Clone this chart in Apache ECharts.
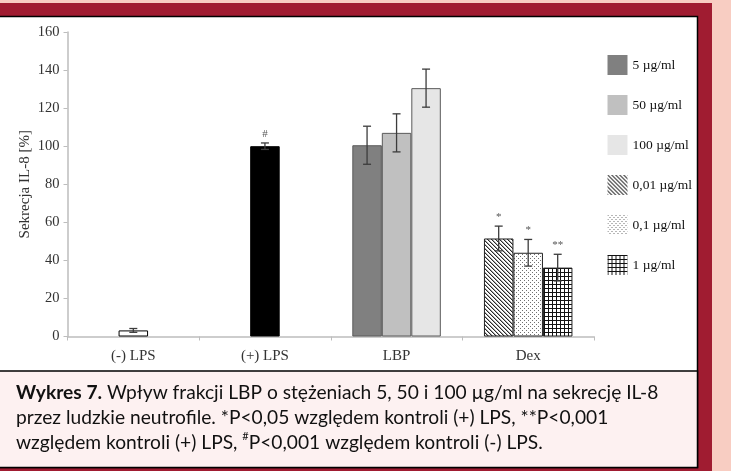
<!DOCTYPE html>
<html>
<head>
<meta charset="utf-8">
<script src="https://cdn.jsdelivr.net/npm/echarts@6/dist/echarts.min.js"></script>
<style>
html,body{margin:0;padding:0;background:#f8cdc2;}
#chart{width:731px;height:471px;}
</style>
</head>
<body>
<div id="chart"></div>
<script>
// ---- data ----
const categories = ['(-) LPS', '(+) LPS', 'LBP', 'Dex'];
const yTicks = [0, 20, 40, 60, 80, 100, 120, 140, 160];
const controlValues = [3.2, 100];
const controlErrors = [1.0, 1.7];
const controlMarks = ['', '#'];
const lbpNames = ['5 µg/ml', '50 µg/ml', '100 µg/ml'];
const lbpValues = [100.5, 107, 130.5];
const lbpErrors = [10, 10, 10];
const dexNames = ['0,01 µg/ml', '0,1 µg/ml', '1 µg/ml'];
const dexValues = [51.5, 44, 36.2];
const dexErrors = [6.5, 7, 7];
const dexMarks = ['*', '*', '**'];
const yTitle = 'Sekrecja IL-8 [%]';

// ---- styles ----
const serif = 'Liberation Serif';
const barW = 29.5;
const lbpColors = ['#808080', '#c0c0c0', '#e6e6e6'];

function pattern(kind) {
  const c = document.createElement('canvas');
  c.width = 4; c.height = 4;
  const g = c.getContext('2d');
  g.fillStyle = '#ffffff';
  g.fillRect(0, 0, 4, 4);
  if (kind === 'diag') {
    g.fillStyle = '#2a2a2a';
    for (let i = 0; i < 4; i++) { g.fillRect(i, i, 1, 1); }
    g.fillStyle = '#a8a8a8';
    for (let i = 0; i < 4; i++) { g.fillRect((i + 1) % 4, i, 1, 1); }
  } else if (kind === 'dots') {
    g.fillStyle = '#707070';
    g.fillRect(0, 0, 1, 1); g.fillRect(2, 2, 1, 1);
  } else {
    g.fillStyle = '#111111';
    g.fillRect(0, 0, 4, 1); g.fillRect(0, 0, 1, 4);
  }
  return { image: c, repeat: 'repeat' };
}
const dexFills = [pattern('diag'), pattern('dots'), pattern('grid')];
const stacks = ['a', 'b', 'c'];

function seriesFor(catIdx, value) {
  return categories.map((_, i) => (i === catIdx ? value : '-'));
}

const series = [];
lbpNames.forEach((n, k) => {
  series.push({
    name: n, type: 'bar', stack: stacks[k], barWidth: barW, barGap: '0%',
    data: seriesFor(2, lbpValues[k]),
    itemStyle: { color: lbpColors[k], borderColor: '#5a5a5a', borderWidth: 1 }
  });
});
dexNames.forEach((n, k) => {
  series.push({
    name: n, type: 'bar', stack: stacks[k], barWidth: barW, barGap: '0%',
    data: seriesFor(3, dexValues[k]),
    itemStyle: { color: dexFills[k], borderColor: '#222', borderWidth: 1 }
  });
});
series.push({
  name: 'control', type: 'bar', stack: 'b', barWidth: barW, barGap: '0%',
  data: [
    { value: controlValues[0], itemStyle: { color: '#ffffff', borderColor: '#000', borderWidth: 1 } },
    { value: controlValues[1], itemStyle: { color: '#000000', borderColor: '#000', borderWidth: 1 } },
    '-', '-'
  ]
});

// error bars: [category, value, error, slot]
const errData = [];
const errMarks = [];
controlValues.forEach((v, i) => { errData.push([i, v, controlErrors[i], 1]); errMarks.push(controlMarks[i]); });
lbpValues.forEach((v, k) => { errData.push([2, v, lbpErrors[k], k]); errMarks.push(''); });
dexValues.forEach((v, k) => { errData.push([3, v, dexErrors[k], k]); errMarks.push(dexMarks[k]); });

series.push({
  name: 'err', type: 'custom', z: 5,
  data: errData,
  encode: { x: 0, y: 1 },
  renderItem: function (params, api) {
    const cat = api.value(0), v = api.value(1), e = api.value(2), slot = api.value(3);
    const hi = api.coord([cat, v + e]);
    const lo = api.coord([cat, v - e]);
    const x = hi[0] + (slot - 1) * barW;
    const st = { stroke: '#3c3c3c', lineWidth: 1.3 };
    const children = [
      { type: 'line', shape: { x1: x, y1: hi[1], x2: x, y2: lo[1] }, style: st },
      { type: 'line', shape: { x1: x - 4, y1: hi[1], x2: x + 4, y2: hi[1] }, style: st },
      { type: 'line', shape: { x1: x - 4, y1: lo[1], x2: x + 4, y2: lo[1] }, style: st }
    ];
    const m = errMarks[params.dataIndex];
    if (m) {
      children.push({
        type: 'text',
        style: { text: m, x: x, y: hi[1] - 9, align: 'center', verticalAlign: 'middle',
                 fill: '#555', font: '11px "Liberation Serif"' }
      });
    }
    return { type: 'group', children: children };
  }
});

const capFont = 'Lato';
const capSize = 19.2;
const capLH = 25;
const chart = echarts.init(document.getElementById('chart'), null, { renderer: 'canvas' });
chart.setOption({
  backgroundColor: '#f8cdc2',
  animation: false,
  graphic: [
    { type: 'rect', z: -10, shape: { x: -5, y: 3, width: 717, height: 475 }, style: { fill: '#a01c31' } },
    { type: 'rect', z: -9, shape: { x: -5, y: 16.5, width: 702.5, height: 451 }, style: { fill: '#ffffff', stroke: '#000', lineWidth: 1.5 } },
    { type: 'rect', z: -8, shape: { x: -5, y: 371, width: 702.5, height: 96.5 }, style: { fill: '#fdf1f1', stroke: '#000', lineWidth: 1.5 } }
  ],
  title: {
    left: 16, top: 380.5, padding: 0,
    text: '{b|Wykres 7.} Wpływ frakcji LBP o stężeniach 5, 50 i 100 µg/ml na sekrecję IL-8\nprzez ludzkie neutrofile. *P<0,05 względem kontroli (+) LPS, **P<0,001\nwzględem kontroli (+) LPS, {s|#}P<0,001 względem kontroli (-) LPS.',
    textStyle: {
      fontFamily: capFont, fontSize: capSize, fontWeight: 'normal', color: '#111', lineHeight: capLH,
      rich: {
        b: { fontFamily: capFont, fontSize: capSize, fontWeight: 'bold', color: '#111', lineHeight: capLH },
        s: { fontFamily: capFont, fontSize: 11, color: '#111', verticalAlign: 'top', lineHeight: capLH, padding: [0, 0, 6, 0] }
      }
    }
  },
  legend: {
    data: lbpNames.concat(dexNames),
    orient: 'vertical', left: 607.5, top: 55, padding: 0,
    itemWidth: 20, itemHeight: 20, itemGap: 20, icon: 'rect',
    itemStyle: { borderWidth: 0 },
    textStyle: { fontFamily: serif, fontSize: 13.5, color: '#111' }
  },
  grid: { left: 67.5, right: 137, top: 32, bottom: 134.5, containLabel: false },
  xAxis: {
    type: 'category', data: categories,
    axisLine: { lineStyle: { color: '#bdbdbd', width: 1.5 } },
    axisTick: { show: true, length: 4, lineStyle: { color: '#bdbdbd' } },
    axisLabel: { fontFamily: serif, fontSize: 15, color: '#333', margin: 12 }
  },
  yAxis: {
    type: 'value', min: yTicks[0], max: yTicks[yTicks.length - 1], interval: yTicks[1] - yTicks[0],
    name: yTitle, nameLocation: 'middle', nameGap: 35, nameMoveOverlap: false,
    nameTextStyle: { fontFamily: serif, fontSize: 15, color: '#333' },
    axisLine: { show: true, lineStyle: { color: '#bdbdbd', width: 1.5 } },
    axisTick: { show: true, length: 4, lineStyle: { color: '#bdbdbd' } },
    splitLine: { show: false },
    axisLabel: { fontFamily: serif, fontSize: 14.5, color: '#333', margin: 8 }
  },
  series: series
});
</script>
</body>
</html>
